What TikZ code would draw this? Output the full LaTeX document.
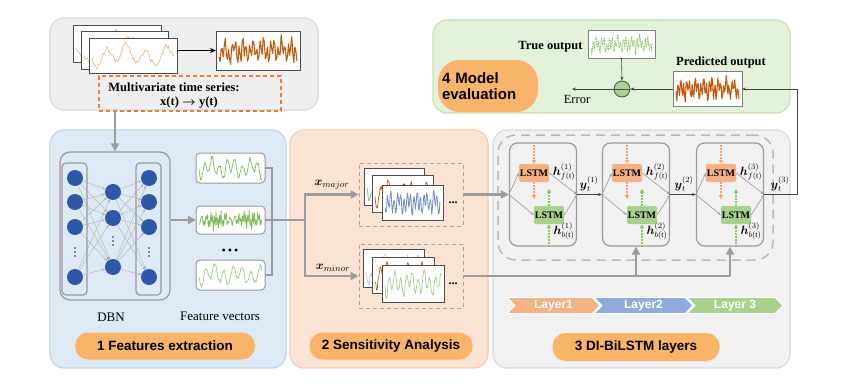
\documentclass[tikz,border=0pt]{standalone}
\usepackage{fontspec}
\setmainfont{Liberation Serif}
\setsansfont{Liberation Sans}
\usepackage{amsmath}
\usetikzlibrary{arrows.meta,calc,shapes.symbols}
\definecolor{topfill}{HTML}{EFEFEF}
\definecolor{topline}{HTML}{D6D6D6}
\definecolor{bluefill}{HTML}{DDEAF6}
\definecolor{blueline}{HTML}{BCD4EC}
\definecolor{orfill}{HTML}{FBE3D3}
\definecolor{orline}{HTML}{F6CBAE}
\definecolor{grfill}{HTML}{F1F1F1}
\definecolor{grline}{HTML}{D9D9D9}
\definecolor{gnfill}{HTML}{E3F0DA}
\definecolor{gnline}{HTML}{C7E0B6}
\definecolor{pillc}{HTML}{F8B469}
\definecolor{dbnblue}{HTML}{2E58A6}
\definecolor{lstmor}{HTML}{F4B183}
\definecolor{lstmgn}{HTML}{A9D18E}
\definecolor{darkor}{HTML}{C55A11}
\definecolor{lightor}{HTML}{EDB68E}
\definecolor{tsgreen}{HTML}{7DB85A}
\definecolor{tsblue}{HTML}{6F8FC6}
\definecolor{tsgray}{HTML}{C8C8C8}
\definecolor{arrgray}{HTML}{9C9C9C}
\definecolor{cellgray}{HTML}{9A9A9A}
\definecolor{dashor}{HTML}{ED7D31}
\definecolor{dotor}{HTML}{F2A46E}
\definecolor{dotgn}{HTML}{8DC46A}
\definecolor{lay1}{HTML}{F4B183}
\definecolor{lay2}{HTML}{8FAADC}
\definecolor{lay3}{HTML}{A9D18E}
\tikzset{
  panel/.style={line width=1.2pt, rounded corners=14pt, inner sep=0, outer sep=0},
  pillnode/.style={fill=pillc, rounded corners=13pt, inner sep=0, font=\sffamily\bfseries\fontsize{13.5}{15}\selectfont},
  bigarrow/.style={draw=arrgray, line width=2.6pt, -{Triangle[length=8pt,width=8pt]}},
  bigline/.style={draw=arrgray, line width=2.6pt},
  bracketline/.style={draw=cellgray, line width=1.4pt},
  thinarr/.style={draw=black!75, line width=0.6pt, -{Stealth[length=4pt,width=3pt]}},
  cellarr/.style={draw=gray!80, line width=0.6pt, -{Stealth[length=3.5pt,width=2.6pt]}},
  tsframe/.style={draw=black!70, line width=0.6pt, fill=white, inner sep=0, outer sep=0},
  fvframe/.style={draw=cellgray, line width=1pt, rounded corners=4pt},
  dashbox/.style={draw=gray!70, line width=0.8pt, dash pattern=on 4pt off 3pt, inner sep=0},
  lstmbox/.style={rounded corners=2pt, minimum width=30pt, minimum height=18pt, inner sep=0, font=\bfseries\fontsize{10}{10}\selectfont},
  cellbox/.style={draw=cellgray, line width=1.2pt, rounded corners=8pt, minimum width=67pt, minimum height=103pt, inner sep=0},
  layerarrow/.style={signal, signal to=east, signal from=west, draw=white, line width=0.8pt, minimum height=16pt, inner sep=0, text=white, font=\sffamily\bfseries\fontsize{12}{12}\selectfont},
  dbnnode/.style={circle, fill=dbnblue, minimum size=16pt, inner sep=0},
  smalldot/.style={circle, fill=black!85, minimum size=1.8pt, inner sep=0},
  dbnedge/.style={draw=gray!65, line width=0.35pt, -{Stealth[length=3pt,width=2.4pt]}},
  dotorarr/.style={draw=dotor, line width=1.2pt, dash pattern=on 1.5pt off 1.5pt, -{Triangle[length=4pt,width=4pt]}},
  dotgnarr/.style={draw=dotgn, line width=1.2pt, dash pattern=on 1.5pt off 1.5pt, -{Triangle[length=4pt,width=4pt]}},
  txtr/.style={font=\fontsize{13}{15}\selectfont},
  txtb/.style={font=\bfseries\fontsize{12.5}{14}\selectfont},
  mlab/.style={font=\fontsize{12}{14}\selectfont, inner sep=0}
}
% name, cx, cy, w, h, frame style, line style, freq, seed
\newcommand\tsbox[9]{%
  \node[tsframe, #6, minimum width=#4pt, minimum height=#5pt] (#1) at (#2,#3) {};
  \pgfmathsetseed{#9}%
  \begin{scope}
    \clip ($(#1.south west)+(1.5,-1.5)$) rectangle ($(#1.north east)+(-1.5,1.5)$);
    \draw[line join=round, #7] plot[domain=0:1, samples=75] ({#2-#4/2+3+(#4-6)*\x}, {#3 + #5*(0.22*sin(#8*\x) + 0.13*sin(0.37*#8*\x+60) + 0.08*rand)});
  \end{scope}}
\begin{document}
\begin{tikzpicture}[x=1pt,y=-1pt]
\useasboundingbox (0,0) rectangle (848,388);
% ---------- panels
\node[panel, draw=topline, fill=topfill, minimum width=268pt, minimum height=92pt] (ptop) at (184,64) {};
\node[panel, draw=blueline, fill=bluefill, minimum width=236pt, minimum height=238pt] (p1) at (168,249) {};
\node[panel, draw=orline, fill=orfill, minimum width=198pt, minimum height=238pt] (p2) at (389,249) {};
\node[panel, draw=grline, fill=grfill, minimum width=297pt, minimum height=238pt] (p3) at (641.5,249) {};
\node[panel, draw=gnline, fill=gnfill, minimum width=357pt, minimum height=93pt] (p4) at (611.5,66.5) {};

% ---------- top panel
\tsbox{s1}{117}{43.5}{88}{37}{}{lightor, line width=0.7pt}{1300}{11}
\tsbox{s2}{124.5}{50}{87}{38}{}{lightor, line width=0.7pt}{1100}{12}
\tsbox{s3}{133}{55.5}{88}{35}{}{lightor, line width=0.7pt}{1500}{13}
\tsbox{rr}{258}{50.5}{84}{39}{}{darkor, line width=1.1pt}{8000}{14}
\draw[draw=black, line width=1.3pt, -{Stealth[length=6pt,width=5pt]}] (s3.east |- rr.west) -- (rr.west);
\node[draw=dashor, line width=1.2pt, dash pattern=on 4pt off 3pt, minimum width=182pt, minimum height=35pt, inner sep=0] (mts) at (190,93.5) {};
\node[txtb] (mtsa) at (174,87) {Multivariate time series:};
\node[txtb] (mtsb) at (189,102.5) {x(t) $\boldsymbol{\rightarrow}$ y(t)};

% ---------- panel 1 : DBN
\node[draw=cellgray, line width=1.2pt, rounded corners=10pt, minimum width=110pt, minimum height=148pt, inner sep=0] (dbn) at (115,226) {};
\node[draw=cellgray, line width=1.2pt, rounded corners=4pt, minimum width=25pt, minimum height=132pt, inner sep=0] (colL) at (74.5,229) {};
\node[draw=cellgray, line width=1.2pt, rounded corners=4pt, minimum width=25pt, minimum height=132pt, inner sep=0] (colR) at (148.5,229) {};
\foreach \n/\yy in {1/178,2/202,3/227,4/277}{
  \node[dbnnode] (a\n) at (75,\yy) {};
  \node[dbnnode] (c\n) at (149,\yy) {};
}
\foreach \n/\yy in {1/192,2/218,3/267}{
  \node[dbnnode] (b\n) at (113,\yy) {};
}
\foreach \k/\dy in {1/-4,2/0,3/4}{
  \node[smalldot] (da\k) at (75,252+\dy) {};
  \node[smalldot] (dc\k) at (149,252+\dy) {};
  \node[smalldot] (db\k) at (113,241+\dy) {};
}
\foreach \i in {1,...,4}{\foreach \j in {1,2,3}{\draw[dbnedge] (a\i) -- (b\j);}}
\foreach \j in {1,2,3}{\foreach \k in {1,...,4}{\draw[dbnedge] (b\j) -- (c\k);}}

\tsbox{fv1}{230.5}{168}{69}{30}{fvframe}{tsgreen, line width=0.7pt}{3000}{21}
\tsbox{fv2}{230.5}{220}{69}{28}{fvframe}{tsgreen, line width=0.7pt}{13000}{22}
\tsbox{fv3}{230.5}{275}{69}{30}{fvframe}{tsgreen!75, line width=0.7pt}{2500}{23}
\node[font=\fontsize{12}{12}\selectfont] (fvdots) at (230,252) {\textbullet\,\textbullet\,\textbullet};
\draw[bigarrow] (dbn.east |- fv2.west) -- (fv2.west);
\coordinate (brk) at (272,220);
\draw[bracketline] (fv1.east) -- (fv1.east -| brk) -- (fv3.east -| brk) -- (fv3.east);
\draw[bracketline] (fv2.east) -- (brk);
\node[txtr] (dbnlab) at (111,317) {DBN};
\node[txtr] (fvlab) at (220,316) {Feature vectors};
\node[pillnode, minimum width=180pt, minimum height=27pt] (pill1) at (165,346) {1 Features extraction};
\draw[bigarrow] (dbn.north |- mts.south) -- (dbn.north);

% ---------- panel 2 : sensitivity
\node[dashbox, minimum width=104pt, minimum height=63pt] (dmaj) at (411,194.5) {};
\node[dashbox, minimum width=104pt, minimum height=64pt] (dmin) at (411,276) {};
\tsbox{m1}{394}{186.5}{60}{37}{}{tsgreen, line width=0.7pt}{2000}{31}
\tsbox{m2}{402.5}{193.5}{61}{37}{}{darkor, line width=0.7pt}{2600}{32}
\tsbox{m3}{412.5}{202.5}{61}{35}{}{tsblue, line width=0.8pt}{6000}{33}
\tsbox{n1}{393.5}{268}{61}{38}{}{tsgray, line width=0.7pt}{1800}{34}
\tsbox{n2}{403}{275}{62}{36}{}{darkor, line width=0.7pt}{2900}{35}
\tsbox{n3}{413}{283.5}{62}{37}{}{tsgreen!70, line width=0.7pt}{3500}{36}
\node[font=\bfseries\fontsize{12}{12}\selectfont] (majdots) at (453,203) {...};
\node[font=\bfseries\fontsize{12}{12}\selectfont] (mindots) at (453,284) {...};
\node[mlab, font=\fontsize{13}{15}\selectfont] (xmaj) at (332,185) {$\boldsymbol{x}_{major}$};
\node[mlab, font=\fontsize{13}{15}\selectfont] (xmin) at (333,268) {$\boldsymbol{x}_{minor}$};
\coordinate (split) at (305,220);
\draw[bigline] (brk) -- (split);
\draw[bigarrow] (split) |- (dmaj.west);
\draw[bigarrow] (split) |- (dmin.west);
\node[pillnode, minimum width=163pt, minimum height=27pt] (pill2) at (391,346) {2 Sensitivity Analysis};

% ---------- panel 3 : DI-BiLSTM
\node[draw=gray!55, line width=1.5pt, dash pattern=on 9pt off 6pt, rounded corners=18pt, minimum width=275pt, minimum height=125pt, inner sep=0] (dbox) at (635.5,197.5) {};
\foreach \i/\cx in {1/543,2/636,3/730}{
  \node[cellbox] (cell\i) at (\cx,194.5) {};
  \node[lstmbox, fill=lstmor] (F\i) at (\cx-9,173) {LSTM};
  \node[lstmbox, fill=lstmgn] (B\i) at (\cx+6,215) {LSTM};
  \draw[cellarr] (cell\i.west) -- (F\i.west);
  \draw[cellarr] (cell\i.west) -- (B\i.west);
  \draw[cellarr] (F\i.east) -- (cell\i.east);
  \draw[cellarr] (B\i.east) -- (cell\i.east);
  \draw[dotorarr] (F\i.north |- cell\i.north) -- (F\i.north);
  \draw[dotorarr] (F\i.south) -- ++(0,17);
  \draw[dotgnarr] (B\i.south |- cell\i.south) -- (B\i.south);
  \draw[dotgnarr] (B\i.north) -- ++(0,-17);
  \node[mlab] (hf\i) at (\cx+21,172) {$\boldsymbol{h}_{f(\mathrm{t})}^{(\i)}$};
  \node[mlab] (hb\i) at (\cx+21,231) {$\boldsymbol{h}_{b(\mathrm{t})}^{(\i)}$};
}
\node[mlab] (y1) at (589,184) {$\boldsymbol{y}_t^{(1)}$};
\node[mlab] (y2) at (684,184) {$\boldsymbol{y}_t^{(2)}$};
\node[mlab] (y3) at (780,184) {$\boldsymbol{y}_t^{(3)}$};
\draw[thinarr] (cell1.east) -- (cell2.west);
\draw[thinarr] (cell2.east) -- (cell3.west);
\draw[bigarrow] (dmaj.east) -- (cell1.west);
\draw[bigline] (dmin.east) -- (dmin.east -| cell3.south);
\draw[bigarrow] (dmin.east -| cell2.south) -- (cell2.south);
\draw[bigarrow] (dmin.east -| cell3.south) -- (cell3.south);
\node[layerarrow, fill=lay1, minimum width=93pt] (L1) at (553.5,305.5) {Layer1};
\node[layerarrow, fill=lay2, minimum width=99pt] (L2) at (643.5,305.5) {Layer2};
\node[layerarrow, fill=lay3, minimum width=96pt] (L3) at (735,305.5) {Layer 3};
\node[pillnode, minimum width=167pt, minimum height=28pt] (pill3) at (636,347) {3 DI-BiLSTM layers};

% ---------- panel 4 : evaluation
\node[pillnode, minimum width=100pt, minimum height=52pt, rounded corners=22pt, align=left, text width=92pt, font=\sffamily\bfseries\fontsize{15}{15.5}\selectfont] (pill4) at (488,86) {4 Model\\evaluation};
\tsbox{tp}{621.5}{44}{67}{28}{draw=gray}{tsgreen, line width=0.8pt, dash pattern=on 0.8pt off 0.8pt}{8000}{41}
\node[txtb, anchor=east] (tplab) at (586,47) {True output};
\tsbox{pp}{707.5}{89}{69}{35}{draw=gray}{darkor, line width=1.1pt}{8000}{42}
\node[txtb] (pplab) at (721,62) {Predicted output};
\node[circle, draw=black!70, fill=lstmgn, line width=0.8pt, minimum size=16pt, inner sep=0] (mc) at (622,89) {};
\draw[draw=black!70, line width=0.8pt] (mc.west) -- (mc.east);
\coordinate (errc) at (572,89);
\node[font=\fontsize{12.5}{14}\selectfont] (err) at (577,99) {Error};
\draw[thinarr] (tp.south) -- (mc.north);
\draw[thinarr] (pp.west) -- (mc.east);
\draw[thinarr] (mc.west) -- (errc);
\draw[thinarr] (cell3.east) -- ++(33,0) |- (pp.east);
\end{tikzpicture}
\end{document}
